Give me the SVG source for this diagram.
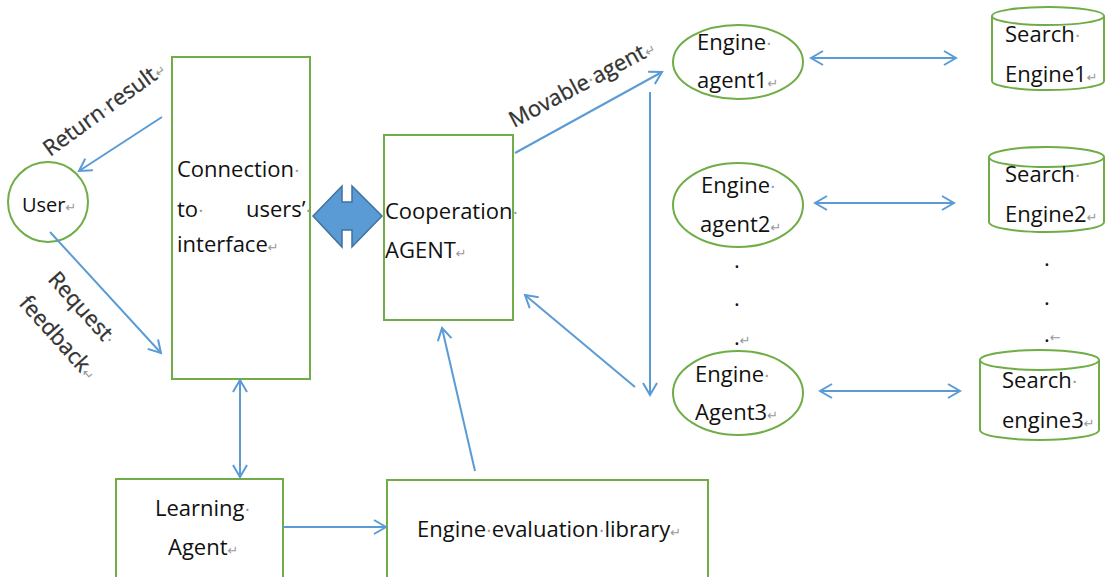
<svg xmlns="http://www.w3.org/2000/svg" width="1105" height="577" viewBox="0 0 1105 577">
<style>
.box{fill:#fff;stroke:#70ad47;stroke-width:2}
.t{font-family:"Open Sans","Noto Sans","Liberation Sans",sans-serif;font-size:22px;fill:#111}
.r{font-family:"Open Sans","Noto Sans","Liberation Sans",sans-serif;font-size:22px;fill:#333;stroke:#333;stroke-width:0.3}
.fm{fill:#999;stroke:none;font-family:"DejaVu Sans",sans-serif;font-size:13px}
.d{fill:#999;stroke:none;font-family:"DejaVu Sans",sans-serif;font-size:18px}
.c{fill:none;stroke:#5b9bd5;stroke-width:2}
</style>
<defs>
<marker id="ah" viewBox="-14 -9 16 18" refX="0" refY="0" markerWidth="16" markerHeight="18" markerUnits="userSpaceOnUse" orient="auto-start-reverse">
<path d="M-12,-7 L0,0 L-12,7" fill="none" stroke="#5b9bd5" stroke-width="2"/>
</marker>
</defs>
<rect width="1105" height="577" fill="#fff"/>

<g id="user">
<circle class="box" cx="48" cy="202" r="40"/>
<text class="t" x="22" y="212" style="font-size:20px">User<tspan class="fm">↵</tspan></text>
</g>

<g id="connection">
<rect class="box" x="172" y="57" width="138" height="322"/>
<text class="t" x="177" y="177">Connection<tspan class="d">·</tspan></text>
<text class="t" x="177" y="217">to<tspan class="d">·</tspan><tspan x="246">users’</tspan><tspan class="d">·</tspan></text>
<text class="t" x="177" y="252">interface<tspan class="fm">↵</tspan></text>
</g>

<g id="bridge">
<path d="M313,216 L342,186 L342,202 L352,202 L352,186 L382,216 L352,247 L352,230 L342,230 L342,247 Z" fill="#5b9bd5" stroke="#41719c" stroke-width="1.5"/>
</g>

<g id="cooperation">
<rect class="box" x="384" y="135" width="129" height="185"/>
<text class="t" x="385" y="219">Cooperation<tspan class="d">·</tspan></text>
<text class="t" x="385" y="258">AGENT<tspan class="fm">↵</tspan></text>
</g>

<g id="engine-agent1">
<ellipse class="box" cx="738" cy="62" rx="65" ry="37"/>
<text class="t" x="697" y="50">Engine<tspan class="d">·</tspan></text>
<text class="t" x="697" y="88">agent1<tspan class="fm">↵</tspan></text>
</g>

<g id="engine-agent2">
<ellipse class="box" cx="738" cy="205" rx="65" ry="42"/>
<text class="t" x="701" y="193">Engine<tspan class="d">·</tspan></text>
<text class="t" x="700" y="232">agent2<tspan class="fm">↵</tspan></text>
</g>

<g id="agent-dots">
<text class="t" x="734" y="268">.</text>
<text class="t" x="734" y="306">.</text>
<text class="t" x="734" y="345">.<tspan class="fm">↵</tspan></text>
</g>

<g id="engine-agent3">
<ellipse class="box" cx="738" cy="393" rx="65" ry="42"/>
<text class="t" x="695" y="382">Engine<tspan class="d">·</tspan></text>
<text class="t" x="695" y="420">Agent3<tspan class="fm">↵</tspan></text>
</g>

<g id="search-engine1">
<path class="box" d="M992,16 L992,81 A56,9 0 0 0 1104,81 L1104,16"/>
<ellipse class="box" cx="1048" cy="16" rx="56" ry="9"/>
<text class="t" x="1005" y="42">Search<tspan class="d">·</tspan></text>
<text class="t" x="1005" y="82">Engine1<tspan class="fm">↵</tspan></text>
</g>

<g id="search-engine2">
<path class="box" d="M989,157 L989,222 A57.5,10 0 0 0 1104,222 L1104,157"/>
<ellipse class="box" cx="1046.5" cy="157" rx="57.5" ry="10"/>
<text class="t" x="1005" y="182">Search<tspan class="d">·</tspan></text>
<text class="t" x="1005" y="222">Engine2<tspan class="fm">↵</tspan></text>
</g>

<g id="search-dots">
<text class="t" x="1044" y="266">.</text>
<text class="t" x="1044" y="305">.</text>
<text class="t" x="1044" y="342">.<tspan class="fm">←</tspan></text>
</g>

<g id="search-engine3">
<path class="box" d="M980,360 L980,430 A59.5,10 0 0 0 1099,430 L1099,360"/>
<ellipse class="box" cx="1039.5" cy="360" rx="59.5" ry="10"/>
<text class="t" x="1002" y="388">Search<tspan class="d">·</tspan></text>
<text class="t" x="1002" y="428">engine3<tspan class="fm">↵</tspan></text>
</g>

<g id="learning-agent">
<rect class="box" x="116" y="479" width="167" height="110"/>
<text class="t" x="155" y="516">Learning<tspan class="d">·</tspan></text>
<text class="t" x="168" y="555">Agent<tspan class="fm">↵</tspan></text>
</g>

<g id="engine-evaluation-library">
<rect class="box" x="387" y="480" width="321" height="110"/>
<text class="t" x="417" y="537">Engine<tspan class="d">·</tspan>evaluation<tspan class="d">·</tspan>library<tspan class="fm">↵</tspan></text>
</g>

<g id="connectors">
<line class="c" x1="162" y1="117" x2="79" y2="171" marker-end="url(#ah)"/>
<line class="c" x1="50" y1="232" x2="161" y2="353" marker-end="url(#ah)"/>
<line class="c" x1="515" y1="153" x2="662" y2="72" marker-end="url(#ah)"/>
<line class="c" x1="650" y1="92" x2="650" y2="395" marker-end="url(#ah)"/>
<line class="c" x1="635" y1="387" x2="525" y2="295" marker-end="url(#ah)"/>
<line class="c" x1="811" y1="58" x2="956" y2="58" marker-start="url(#ah)" marker-end="url(#ah)"/>
<line class="c" x1="815" y1="203" x2="954" y2="203" marker-start="url(#ah)" marker-end="url(#ah)"/>
<line class="c" x1="820" y1="391" x2="960" y2="391" marker-start="url(#ah)" marker-end="url(#ah)"/>
<line class="c" x1="240" y1="380" x2="240" y2="477" marker-start="url(#ah)" marker-end="url(#ah)"/>
<line class="c" x1="283" y1="527" x2="386" y2="527" marker-end="url(#ah)"/>
<line class="c" x1="475" y1="471" x2="442" y2="328" marker-end="url(#ah)"/>
</g>

<g id="labels">
<text class="r" transform="translate(50,157) rotate(-36)">Return<tspan class="d">·</tspan>result<tspan class="fm">↵</tspan></text>
<text class="r" transform="translate(47,280) rotate(48)">Request<tspan class="d">·</tspan></text>
<text class="r" transform="translate(18,304) rotate(48)">feedback<tspan class="fm">↵</tspan></text>
<text class="r" transform="translate(514,128) rotate(-28)">Movable<tspan class="d">·</tspan>agent<tspan class="fm">↵</tspan></text>
</g>
</svg>
